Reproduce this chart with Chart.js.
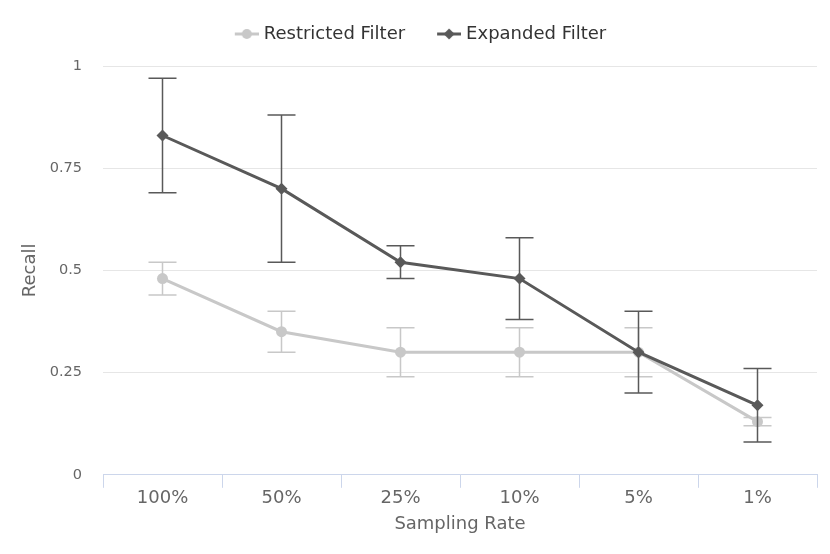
<!DOCTYPE html>
<html>
<head>
<meta charset="utf-8">
<script src="https://cdn.jsdelivr.net/npm/chart.js@4.4.0/dist/chart.umd.min.js"></script>
<style>
    html, body { margin: 0; padding: 0; background: #ffffff; }
    #wrap { width: 830px; height: 554px; }
</style>
</head>
<body>
<div id="wrap"><canvas id="chart"></canvas></div>
<script>
// ==========================================================================
// Data
// ==========================================================================
const samplingRates = ['100%', '50%', '25%', '10%', '5%', '1%'];

const restrictedRecall = [0.48, 0.35, 0.30, 0.30, 0.30, 0.13];
const restrictedLow    = [0.44, 0.30, 0.24, 0.24, 0.24, 0.12];
const restrictedHigh   = [0.52, 0.40, 0.36, 0.36, 0.36, 0.14];

const expandedRecall = [0.83, 0.70, 0.52, 0.48, 0.30, 0.17];
const expandedLow    = [0.69, 0.52, 0.48, 0.38, 0.20, 0.08];
const expandedHigh   = [0.97, 0.88, 0.56, 0.58, 0.40, 0.26];

const yTicks = [0, 0.25, 0.5, 0.75, 1];

const restrictedColor = '#c8c8c8';
const expandedColor = '#595959';
const fontFamily = '"DejaVu Sans", Verdana, sans-serif';

// ==========================================================================
// Error bar plugin - draws whiskers through the y scale
// ==========================================================================
const errorBars = {
    id: 'errorBars',
    beforeDatasetDraw(chart, args) {
        const ds = chart.data.datasets[args.index];
        if (!ds.errLow) return;
        const y = chart.scales.y;
        const ctx = chart.ctx;
        const cap = 14;
        ctx.save();
        ctx.strokeStyle = ds.borderColor;
        ctx.lineWidth = 1.5;
        args.meta.data.forEach((pt, i) => {
            const yLow = y.getPixelForValue(ds.errLow[i]);
            const yHigh = y.getPixelForValue(ds.errHigh[i]);
            ctx.beginPath();
            ctx.moveTo(pt.x, yLow);
            ctx.lineTo(pt.x, yHigh);
            ctx.moveTo(pt.x - cap, yHigh);
            ctx.lineTo(pt.x + cap, yHigh);
            ctx.moveTo(pt.x - cap, yLow);
            ctx.lineTo(pt.x + cap, yLow);
            ctx.stroke();
        });
        ctx.restore();
    }
};

// extra room under the legend
const legendGap = {
    id: 'legendGap',
    beforeInit(chart) {
        const fit = chart.legend.fit;
        chart.legend.fit = function () {
            fit.bind(chart.legend)();
            this.height += 13;
        };
    }
};

// legend symbol: short line with the marker in the middle
function legendSymbol(color, style) {
    const c = document.createElement('canvas');
    c.width = 32;
    c.height = 14;
    const g = c.getContext('2d');
    g.strokeStyle = color;
    g.fillStyle = color;
    g.lineWidth = 3;
    g.beginPath();
    g.moveTo(8, 7);
    g.lineTo(32, 7);
    g.stroke();
    g.beginPath();
    if (style === 'circle') {
        g.arc(20, 7, 5, 0, Math.PI * 2);
    } else {
        g.moveTo(20, 1.5);
        g.lineTo(25.5, 7);
        g.lineTo(20, 12.5);
        g.lineTo(14.5, 7);
        g.closePath();
    }
    g.fill();
    return c;
}

// ==========================================================================
// Chart
// ==========================================================================
const ctx = document.getElementById('chart').getContext('2d');

new Chart(ctx, {
    type: 'line',
    data: {
        labels: samplingRates,
        datasets: [{
            label: 'Restricted Filter',
            data: restrictedRecall,
            errLow: restrictedLow,
            errHigh: restrictedHigh,
            borderColor: restrictedColor,
            backgroundColor: restrictedColor,
            borderWidth: 3,
            pointStyle: 'circle',
            pointRadius: 5.5,
            pointBorderWidth: 0,
            legendIcon: legendSymbol(restrictedColor, 'circle'),
            order: 2,
        }, {
            label: 'Expanded Filter',
            data: expandedRecall,
            errLow: expandedLow,
            errHigh: expandedHigh,
            borderColor: expandedColor,
            backgroundColor: expandedColor,
            borderWidth: 3,
            pointStyle: 'rectRot',
            pointRadius: 6,
            pointBorderWidth: 0,
            legendIcon: legendSymbol(expandedColor, 'diamond'),
            order: 1,
        }]
    },
    options: {
        responsive: true,
        maintainAspectRatio: false,
        animation: false,
        layout: { padding: { left: 20, right: 13, top: -3, bottom: 15 } },
        plugins: {
            tooltip: { enabled: false },
            legend: {
                position: 'top',
                labels: {
                    usePointStyle: true,
                    pointStyleWidth: 24,
                    color: '#333333',
                    font: { family: fontFamily, size: 18 },
                    padding: 28,
                    generateLabels(chart) {
                        return chart.data.datasets.map((ds, i) => ({
                            text: ds.label,
                            pointStyle: ds.legendIcon,
                            fontColor: '#333333',
                            strokeStyle: ds.borderColor,
                            fillStyle: ds.borderColor,
                            lineWidth: 0,
                            hidden: false,
                            datasetIndex: i,
                        }));
                    }
                }
            }
        },
        scales: {
            x: {
                offset: true,
                grid: {
                    offset: true,
                    drawOnChartArea: false,
                    color: '#ccd6eb',
                    tickLength: 13,
                },
                border: { color: '#ccd6eb', width: 1 },
                ticks: {
                    color: '#666666',
                    font: { family: fontFamily, size: 18 },
                    padding: 0,
                },
                title: {
                    display: true,
                    text: 'Sampling Rate',
                    color: '#666666',
                    font: { family: fontFamily, size: 18 },
                    padding: { top: 4 },
                }
            },
            y: {
                min: 0,
                max: 1,
                afterBuildTicks(axis) {
                    axis.ticks = yTicks.map(v => ({ value: v }));
                },
                afterFit(axis) {
                    axis.width = 83;
                },
                grid: {
                    color: '#e6e6e6',
                    drawTicks: false,
                },
                border: { display: false },
                ticks: {
                    color: '#666666',
                    font: { family: fontFamily, size: 14.5 },
                    padding: 21,
                    callback: v => String(v),
                },
                title: {
                    display: true,
                    text: 'Recall',
                    color: '#666666',
                    font: { family: fontFamily, size: 18 },
                    padding: { top: 0, bottom: 0 },
                }
            }
        }
    },
    plugins: [errorBars, legendGap]
});
</script>
</body>
</html>
